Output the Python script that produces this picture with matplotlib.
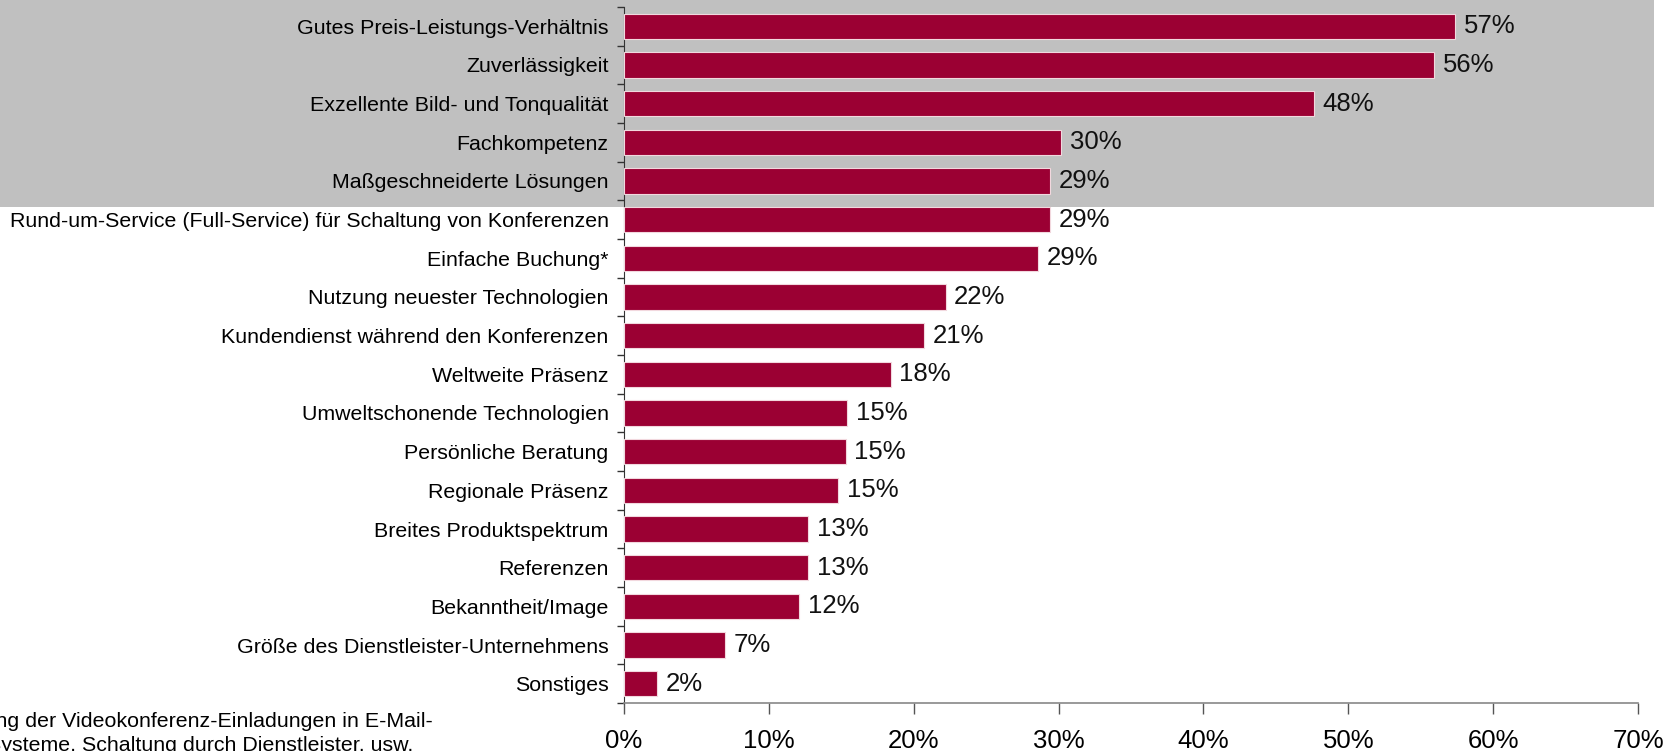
import matplotlib.pyplot as plt
import numpy as np
from matplotlib.patches import Rectangle
from matplotlib.ticker import FixedLocator, PercentFormatter

CATEGORIES = [
    "Gutes Preis-Leistungs-Verhältnis",
    "Zuverlässigkeit",
    "Exzellente Bild- und Tonqualität",
    "Fachkompetenz",
    "Maßgeschneiderte Lösungen",
    "Rund-um-Service (Full-Service) für Schaltung von Konferenzen",
    "Einfache Buchung*",
    "Nutzung neuester Technologien",
    "Kundendienst während den Konferenzen",
    "Weltweite Präsenz",
    "Umweltschonende Technologien",
    "Persönliche Beratung",
    "Regionale Präsenz",
    "Breites Produktspektrum",
    "Referenzen",
    "Bekanntheit/Image",
    "Größe des Dienstleister-Unternehmens",
    "Sonstiges",
]
VALUES = [57.4, 55.9, 47.6, 30.2, 29.4, 29.4, 28.6, 22.2, 20.7, 18.4,
          15.4, 15.3, 14.8, 12.7, 12.7, 12.1, 7.0, 2.3]
X_TICKS = [0, 10, 20, 30, 40, 50, 60, 70]
FOOTNOTE = [
    "* Einbindung der Videokonferenz-Einladungen in E-Mail-",
    "Systeme, Schaltung durch Dienstleister, usw.",
]

BAR_COLOR = "#9B0033"
HIGHLIGHT = "#C0C0C0"

plt.rcParams["font.family"] = ["Liberation Sans", "DejaVu Sans"]

fig = plt.figure(figsize=(16.8, 7.51), dpi=100)
fig.patch.set_facecolor("white")

# grey band behind the top five items
fig.patches.append(Rectangle((0, 0.7244), 0.9845, 0.2756, transform=fig.transFigure,
                             facecolor=HIGHLIGHT, edgecolor="none", zorder=0))

ax = fig.add_axes([0.3714, 0.0639, 0.6036, 0.9268])
ax.set_facecolor("none")
ax.set_zorder(2)

y = np.arange(len(CATEGORIES))
ax.barh(y, VALUES, height=0.66, color=BAR_COLOR, edgecolor="#F2D8DE", linewidth=0.8, zorder=3)
for yi, v in zip(y, VALUES):
    ax.text(v + 0.6, yi, f"{v:.0f}%", va="center", ha="left", fontsize=18.5, color="#111111")

ax.set_ylim(len(CATEGORIES) - 0.5, -0.5)
ax.set_xlim(0, 70)
ax.set_yticks(y)
ax.set_yticklabels(CATEGORIES, fontsize=15.4)
ax.yaxis.set_minor_locator(FixedLocator(np.arange(-0.5, len(CATEGORIES), 1)))
ax.tick_params(axis="y", which="major", length=0, pad=11)
ax.tick_params(axis="y", which="minor", length=5, width=1, color="#333333")

ax.set_xticks(X_TICKS)
ax.xaxis.set_major_formatter(PercentFormatter(decimals=0))
ax.tick_params(axis="x", length=8, width=1, color="#555555", labelsize=18.5, pad=11)

for side in ("top", "right"):
    ax.spines[side].set_visible(False)
ax.spines["left"].set_color("#333333")
ax.spines["bottom"].set_color("#888888")
ax.spines["bottom"].set_linewidth(1.2)

# footnote runs off the left edge, as in the source
fig.text(433 / 1680, 1 - 727 / 751, FOOTNOTE[0], ha="right", va="baseline", fontsize=15.4)
fig.text(413 / 1680, 1 - 751 / 751, FOOTNOTE[1], ha="right", va="baseline", fontsize=15.4)

fig.savefig("out.png", dpi=100)
